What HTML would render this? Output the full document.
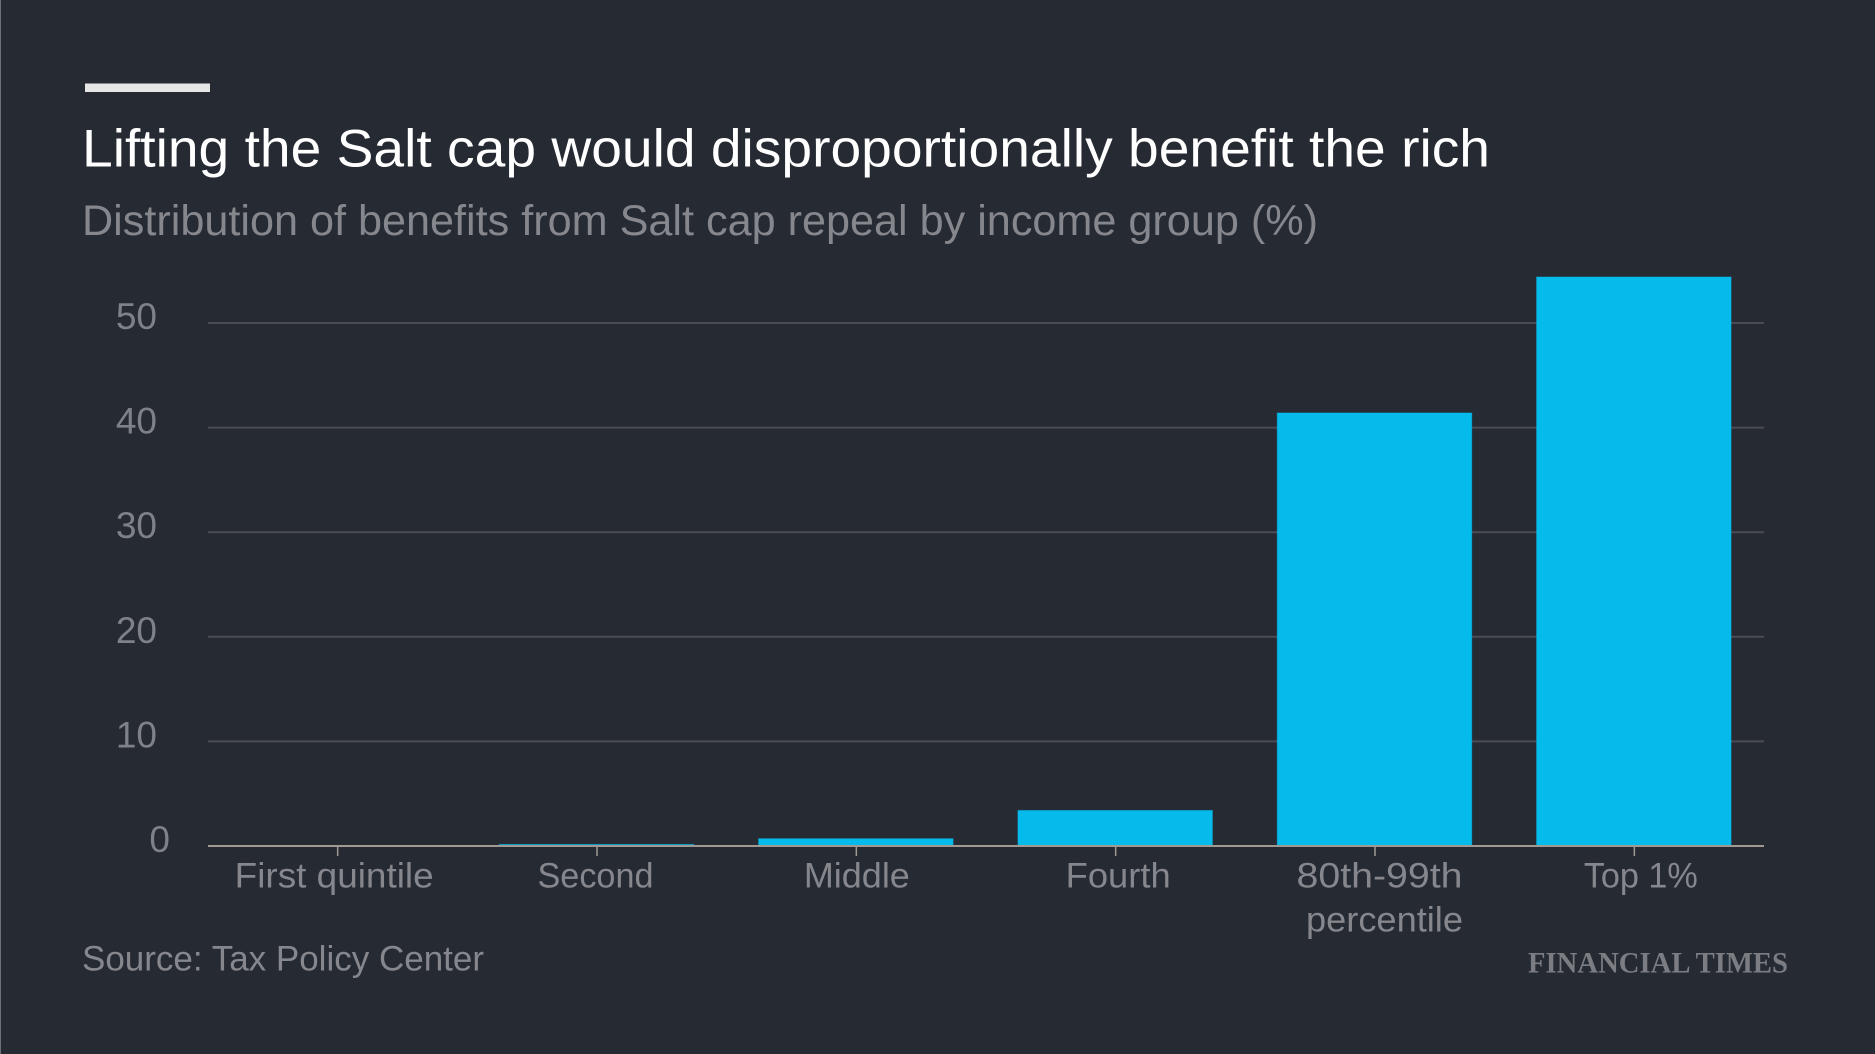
<!DOCTYPE html>
<html lang="en">
<head>
<meta charset="utf-8">
<title>Lifting the Salt cap would disproportionally benefit the rich</title>
<style>
html,body{margin:0;padding:0;background:#262a33;}
svg{display:block;font-family:"Liberation Sans",sans-serif;}
</style>
</head>
<body>
<svg id="chart" width="1875" height="1054" viewBox="0 0 1875 1054" xmlns="http://www.w3.org/2000/svg">
  <rect x="0" y="0" width="1875" height="1054" fill="#262a33"/>
  <rect x="0" y="0" width="1" height="1054" fill="#6f7178"/>
  <rect x="85" y="83.5" width="125" height="8.5" fill="#e6e6e6"/>
  <text x="82" y="166.5" font-size="53" fill="#ffffff" textLength="1408" lengthAdjust="spacingAndGlyphs">Lifting the Salt cap would disproportionally benefit the rich</text>
  <text x="82" y="235" font-size="43" fill="#85878d" textLength="1236" lengthAdjust="spacingAndGlyphs">Distribution of benefits from Salt cap repeal by income group (%)</text>
  <g id="grid"></g>
  <g id="bars"></g>
  <g id="xaxis"></g>
  <g id="yaxis"></g>
  <text x="82" y="970.5" font-size="35" fill="#85878d" textLength="402" lengthAdjust="spacingAndGlyphs">Source: Tax Policy Center</text>
  <text x="1528" y="972.5" font-family="'Liberation Serif',serif" font-weight="700" font-size="30" fill="#7b7d83" textLength="260" lengthAdjust="spacingAndGlyphs">FINANCIAL TIMES</text>
</svg>
<script>
const categories = ["First quintile", "Second", "Middle", "Fourth", "80th-99th|percentile", "Top 1%"];
const benefitShare = [0.02, 0.15, 0.7, 3.4, 41.4, 54.4];
const yTicks = [0, 10, 20, 30, 40, 50];

const labelLineWidths = {"First quintile":199, "Second":116, "Middle":106, "Fourth":105, "80th-99th":166, "percentile":157, "Top 1%":114};
const NS = "http://www.w3.org/2000/svg";
const plot = {left: 208, right: 1764, zero: 846, pxPerUnit: 10.46, barRatio: 0.75};

function yScale(v) { return plot.zero - v * plot.pxPerUnit; }
function bandWidth() { return (plot.right - plot.left) / categories.length; }
function xCenter(i) { return plot.left + bandWidth() * (i + 0.5); }
function make(tag, attrs, parent) {
  const el = document.createElementNS(NS, tag);
  for (const k in attrs) el.setAttribute(k, attrs[k]);
  parent.appendChild(el);
  return el;
}

const gridG = document.getElementById("grid");
const barsG = document.getElementById("bars");
const xG = document.getElementById("xaxis");
const yG = document.getElementById("yaxis");

yTicks.forEach(function (t) {
  if (t !== 0) {
    const line = make("line", {x1: plot.left, x2: plot.right, y1: yScale(t), y2: yScale(t), stroke: "#4a4c52", "stroke-width": 2}, gridG);
    
    
  }
  const label = make("text", {x: t === 0 ? 170 : 157, y: yScale(t) + 6, "text-anchor": "end", "font-size": 37, fill: "#7f8188"}, yG);
  label.textContent = String(t);
  
  
});

benefitShare.forEach(function (v, i) {
  const w = bandWidth() * plot.barRatio;
  const bar = make("rect", {x: xCenter(i) - w / 2 - 0.5, y: yScale(v), width: w, height: plot.zero - yScale(v), fill: "#05bbec", stroke: "#05bbec", "stroke-opacity": 0.45, "stroke-width": 1}, barsG);
  
  
});

const axisLine = make("line", {x1: plot.left, x2: plot.right, y1: plot.zero, y2: plot.zero, stroke: "#a09a92", "stroke-width": 2}, xG);



categories.forEach(function (c, i) {
  const cx = xCenter(i);
  const tick = make("line", {x1: cx, x2: cx, y1: plot.zero + 1, y2: plot.zero + 10, stroke: "#a09a92", "stroke-width": 1.5}, xG);
  
  
  c.split("|").forEach(function (part, n) {
    const lx = cx - 3.5 + i * 2 + (n === 1 ? 5 : 0);
    const label = make("text", {x: lx, y: 887.5 + n * 44, "text-anchor": "middle", "font-size": 35, fill: "#85878d", textLength: labelLineWidths[part], lengthAdjust: "spacingAndGlyphs"}, xG);
    label.textContent = part;
    
    
  });
});
</script>
</body>
</html>
